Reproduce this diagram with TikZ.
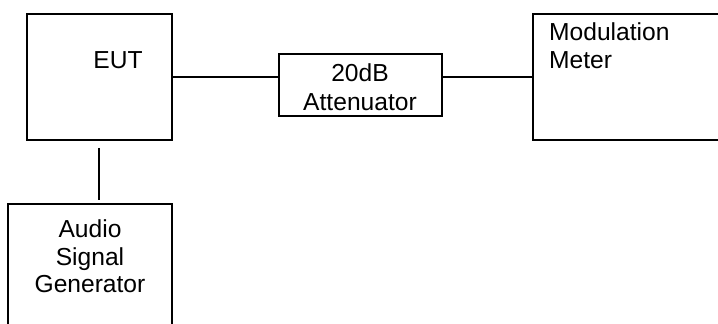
\documentclass[tikz,border=0pt]{standalone}
\usepackage{fontspec}
\setmainfont{Liberation Sans}
\begin{document}
\begin{tikzpicture}[x=1pt,y=-1pt,
  box/.style={draw=black,line width=1.8pt,rectangle,inner sep=0pt,fill=none},
  wire/.style={draw=black,line width=1.9pt},
  lbl/.style={inner sep=0pt,font=\fontsize{24.6}{27.7}\selectfont,text=black}]
\useasboundingbox (0,0) rectangle (718,324);
\clip (0,0) rectangle (718,324);
\fill[white] (0,0) rectangle (718,324);
\node[box,minimum width=145pt,minimum height=126pt] (eut) at (99.5,77) {};
\node[box,minimum width=163pt,minimum height=62pt] (att) at (360.5,85) {};
\node[box,minimum width=240pt,minimum height=126pt] (meter) at (653,77) {};
\node[box,minimum width=164pt,minimum height=200pt] (gen) at (90,304) {};
% texts
\node[lbl,anchor=base] (teut) at (118,68.3) {EUT};
\node[lbl,anchor=base] (tatt1) at (360,81.7) {20dB};
\node[lbl,anchor=base] (tatt2) at (360,110) {Attenuator};
\node[lbl,anchor=base west] (tmet1) at (549,40.7) {Modulation};
\node[lbl,anchor=base west] (tmet2) at (549,68.3) {Meter};
\node[lbl,anchor=base] (tgen1) at (90,237) {Audio};
\node[lbl,anchor=base] (tgen2) at (90,265) {Signal};
\node[lbl,anchor=base] (tgen3) at (90,292) {Generator};
% connectors
\coordinate (vtop) at ([xshift=-0.5pt]eut.south);
\draw[wire] (eut.east) -- (eut.east -| att.west);
\draw[wire] (meter.west -| att.east) -- (meter.west);
\draw[wire,shorten <=7pt,shorten >=3pt] (vtop) -- (vtop |- gen.north);
\end{tikzpicture}
\end{document}
